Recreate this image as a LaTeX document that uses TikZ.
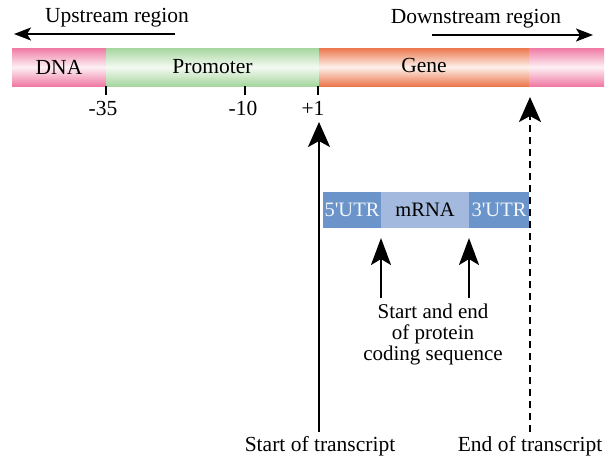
\documentclass[tikz,border=0pt]{standalone}
\usepackage{fontspec}
\setmainfont{Liberation Serif}
\usetikzlibrary{arrows.meta}
\definecolor{pinkE}{HTML}{F07AA4}
\definecolor{pinkM}{HTML}{FDF0F4}
\definecolor{greenE}{HTML}{A6D69E}
\definecolor{greenM}{HTML}{F4FAF2}
\definecolor{orangeE}{HTML}{EC774E}
\definecolor{orangeM}{HTML}{FDF1EA}
\definecolor{utrblue}{HTML}{6A94CA}
\definecolor{mrnablue}{HTML}{A4B9DE}
\tikzset{
  lbl/.style={font=\fontsize{21.5}{23}\selectfont, inner sep=0pt},
  seg/.style={lbl, anchor=north west, minimum height=38pt, outer sep=0pt},
  rseg/.style={lbl, font=\fontsize{20.5}{23}\selectfont, anchor=north west, minimum height=36pt, outer sep=0pt},
  tickline/.style={line width=1.8pt},
  bigarrow/.style={line width=2.4pt, -{Stealth[length=25pt,width=22pt,inset=6pt]}},
  smallarrow/.style={line width=2.2pt, -{Stealth[length=27pt,width=20pt,inset=6pt]}},
  regarrow/.style={line width=1.8pt, -{Stealth[length=17pt,width=13pt,inset=4pt]}}
}
\begin{document}
\begin{tikzpicture}[x=1pt,y=-1pt]
\useasboundingbox (0,0) rectangle (613,459);
% DNA bar
\node[seg, minimum width=94pt, top color=pinkE, bottom color=pinkE, middle color=pinkM] (dna) at (12,48) {DNA};
\node[seg, minimum width=213pt, top color=greenE, bottom color=greenE, middle color=greenM] (prom) at (106,48) {Promoter};
\node[seg, minimum width=210pt, top color=orangeE, bottom color=orangeE, middle color=orangeM] (gene) at (319,48) {\raisebox{3pt}{Gene}};
\node[seg, minimum width=75pt, top color=pinkE, bottom color=pinkE, middle color=pinkM] (down) at (529,48) {};
% region labels
\node[lbl] (uplbl) at (117,18) {Upstream region};
\node[lbl] (downlbl) at (476,19) {Downstream region};
\coordinate (upa) at (175,34);
\coordinate (upb) at (14,34);
\coordinate (dna1) at (432,35);
\coordinate (dnb) at (593,35);
\draw[regarrow] (upa) -- (upb);
\draw[regarrow] (dna1) -- (dnb);
% ticks
\coordinate (t35) at (106,86);
\coordinate (t10) at (245,86);
\coordinate (t1) at (318,86);
\draw[tickline] (t35) -- ++(0,9);
\draw[tickline] (t10) -- ++(0,9);
\draw[tickline] (t1) -- ++(0,9);
\node[lbl] (l35) at (103,108) {-35};
\node[lbl] (l10) at (243,108) {-10};
\node[lbl] (l1) at (313,108) {+1};
% mRNA bar
\node[rseg, minimum width=58pt, fill=utrblue, text=white!92!utrblue] (utr5) at (323,192) {5\textquotesingle UTR};
\node[rseg, minimum width=88pt, fill=mrnablue] (mrna) at (381,192) {mRNA};
\node[rseg, minimum width=60pt, fill=utrblue, text=white!92!utrblue] (utr3) at (469,192) {3\textquotesingle UTR};
% coding sequence arrows
\node[lbl, align=center, font=\fontsize{21}{21}\selectfont] (cds) at (433,334) {Start and end\\of protein\\coding sequence};
\coordinate (csb) at (381,298);
\coordinate (cst) at (381,238);
\coordinate (ceb) at (469,298);
\coordinate (cet) at (469,238);
\draw[smallarrow] (csb) -- (cst);
\draw[smallarrow] (ceb) -- (cet);
% transcript arrows
\node[lbl] (startlbl) at (320,446) {Start of transcript};
\node[lbl] (endlbl) at (530,446) {End of transcript};
\coordinate (sb) at (319,432);
\coordinate (st) at (319,122);
\coordinate (eb) at (530,432);
\coordinate (et) at (530,97);
\draw[bigarrow] (sb) -- (st);
\draw[bigarrow, dash pattern=on 7pt off 5pt] (eb) -- (et);
\end{tikzpicture}
\end{document}
